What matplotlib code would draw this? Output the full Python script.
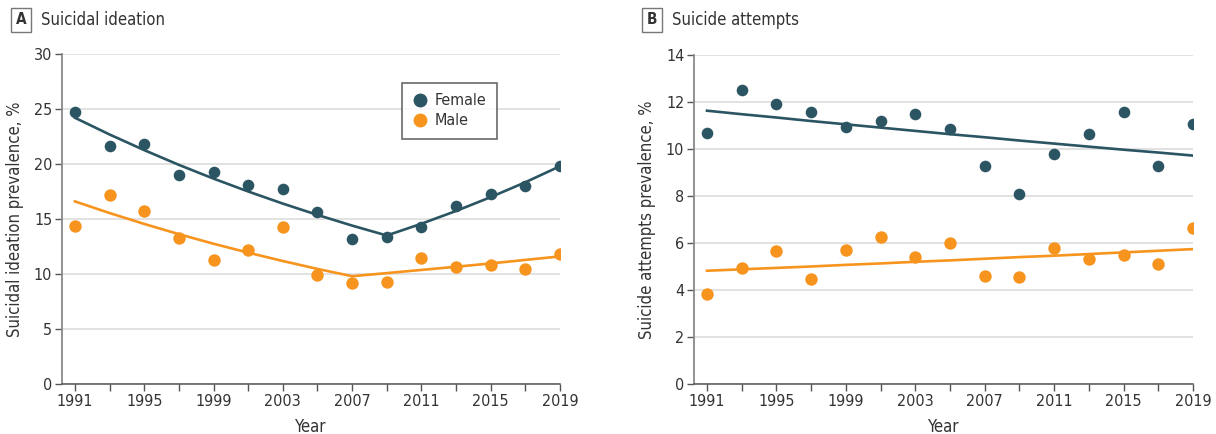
import matplotlib
matplotlib.use("Agg")
import matplotlib.pyplot as plt
from matplotlib.lines import Line2D

plt.rcParams["font.family"] = ["DejaVu Sans"]
plt.rcParams["font.stretch"] = "condensed"

years = list(range(1991, 2020, 2))
year_ticks = list(range(1991, 2020, 4))

# Panel A: suicidal ideation prevalence, %
ideation_female = [24.7, 21.6, 21.8, 19.0, 19.3, 18.1, 17.7, 15.6, 13.2, 13.4,
                   14.3, 16.2, 17.3, 18.0, 19.8]
ideation_male = [14.4, 17.2, 15.7, 13.3, 11.3, 12.2, 14.3, 9.9, 9.2, 9.3,
                 11.5, 10.6, 10.8, 10.5, 11.8]
ideation_female_fit = [24.2, 22.68, 21.26, 19.92, 18.67, 17.50, 16.40, 15.37, 14.40, 13.5,
                       14.57, 15.73, 16.99, 18.34, 19.8]
ideation_male_fit = [16.6, 15.54, 14.55, 13.62, 12.75, 11.94, 11.18, 10.46, 9.8, 10.08,
                     10.37, 10.66, 10.96, 11.28, 11.6]

# Panel B: suicide attempts prevalence, %
attempts_female = [10.70, 12.50, 11.91, 11.57, 10.94, 11.19, 11.49, 10.84, 9.28, 8.07,
                   9.77, 10.62, 11.57, 9.28, 11.06]
attempts_male = [3.84, 4.95, 5.65, 4.47, 5.70, 6.24, 5.40, 6.01, 4.60, 4.57,
                 5.80, 5.33, 5.48, 5.09, 6.65]
attempts_female_fit = [11.63, 11.48, 11.34, 11.19, 11.05, 10.91, 10.77, 10.63, 10.50, 10.36,
                       10.23, 10.10, 9.97, 9.85, 9.72]
attempts_male_fit = [4.82, 4.88, 4.94, 5.00, 5.07, 5.13, 5.20, 5.26, 5.33, 5.40,
                     5.46, 5.53, 5.60, 5.67, 5.74]

FEMALE = "#2b5563"
MALE = "#f7941e"
TEXT = "#333333"

W, H = 1216, 434
fig = plt.figure(figsize=(W / 100, H / 100), dpi=100)


def px_axes(left, right, top, bottom):
    return fig.add_axes([left / W, 1 - bottom / H, (right - left) / W, (bottom - top) / H])


def style_axes(ax, ymax, ystep, ylabel):
    ax.set_xlim(1990.25, 2019)
    ax.set_ylim(0, ymax)
    ax.set_xticks(years)
    ax.set_xticklabels([str(y) if y in year_ticks else "" for y in years])
    ax.set_yticks(list(range(0, ymax + 1, ystep)))
    for s in ("top", "right"):
        ax.spines[s].set_visible(False)
    ax.spines["left"].set_color("#8a8a8a")
    ax.spines["left"].set_linewidth(1.3)
    ax.spines["bottom"].set_color("#555555")
    ax.spines["bottom"].set_linewidth(1.1)
    ax.tick_params(axis="both", direction="out", length=5, width=1.0,
                   colors="#555555", labelcolor=TEXT, labelsize=11.5, pad=2)
    ax.yaxis.grid(True, color="#e2e2e2", linewidth=1.4)
    ax.set_axisbelow(True)
    ax.set_xlabel("Year", fontsize=12, color=TEXT, labelpad=7)
    ax.set_ylabel(ylabel, fontsize=12, color=TEXT, labelpad=7)


def panel_title(x_box, letter, title):
    fig.text(x_box / W, 1 - 20 / H, letter, fontsize=11, fontweight="bold", color=TEXT,
             ha="center", va="center",
             bbox=dict(boxstyle="square,pad=0.32", facecolor="white",
                       edgecolor="#777777", linewidth=1.0))
    fig.text((x_box + 20) / W, 1 - 20 / H, title, fontsize=12, color=TEXT,
             ha="left", va="center")


ax1 = px_axes(62, 560, 54, 384)
ax1.plot(years, ideation_female_fit, color=FEMALE, linewidth=1.9, zorder=2)
ax1.plot(years, ideation_male_fit, color=MALE, linewidth=1.9, zorder=2)
ax1.scatter(years, ideation_female, s=70, color=FEMALE, zorder=3, linewidths=0)
ax1.scatter(years, ideation_male, s=80, color=MALE, zorder=3, linewidths=0)
style_axes(ax1, 30, 5, "Suicidal ideation prevalence, %")

handles = [Line2D([], [], marker="o", linestyle="", markersize=9, color=FEMALE),
           Line2D([], [], marker="o", linestyle="", markersize=9, color=MALE)]
leg = ax1.legend(handles, ["Female", "Male"], loc="upper left",
                 bbox_to_anchor=((402 - 62) / 498, 1 - (83 - 54) / 330),
                 frameon=True, fancybox=False, fontsize=11.5, handletextpad=0.4,
                 handlelength=1.0, borderpad=0.65, labelspacing=0.3, borderaxespad=0)
leg.get_frame().set_edgecolor("#444444")
leg.get_frame().set_linewidth(1.2)
for t in leg.get_texts():
    t.set_color(TEXT)

ax2 = px_axes(694, 1193, 55, 384)
ax2.plot(years, attempts_female_fit, color=FEMALE, linewidth=1.9, zorder=2)
ax2.plot(years, attempts_male_fit, color=MALE, linewidth=1.9, zorder=2)
ax2.scatter(years, attempts_female, s=70, color=FEMALE, zorder=3, linewidths=0)
ax2.scatter(years, attempts_male, s=80, color=MALE, zorder=3, linewidths=0)
style_axes(ax2, 14, 2, "Suicide attempts prevalence, %")

panel_title(21, "A", "Suicidal ideation")
panel_title(652, "B", "Suicide attempts")

fig.savefig("out.png", dpi=100, facecolor="white")
